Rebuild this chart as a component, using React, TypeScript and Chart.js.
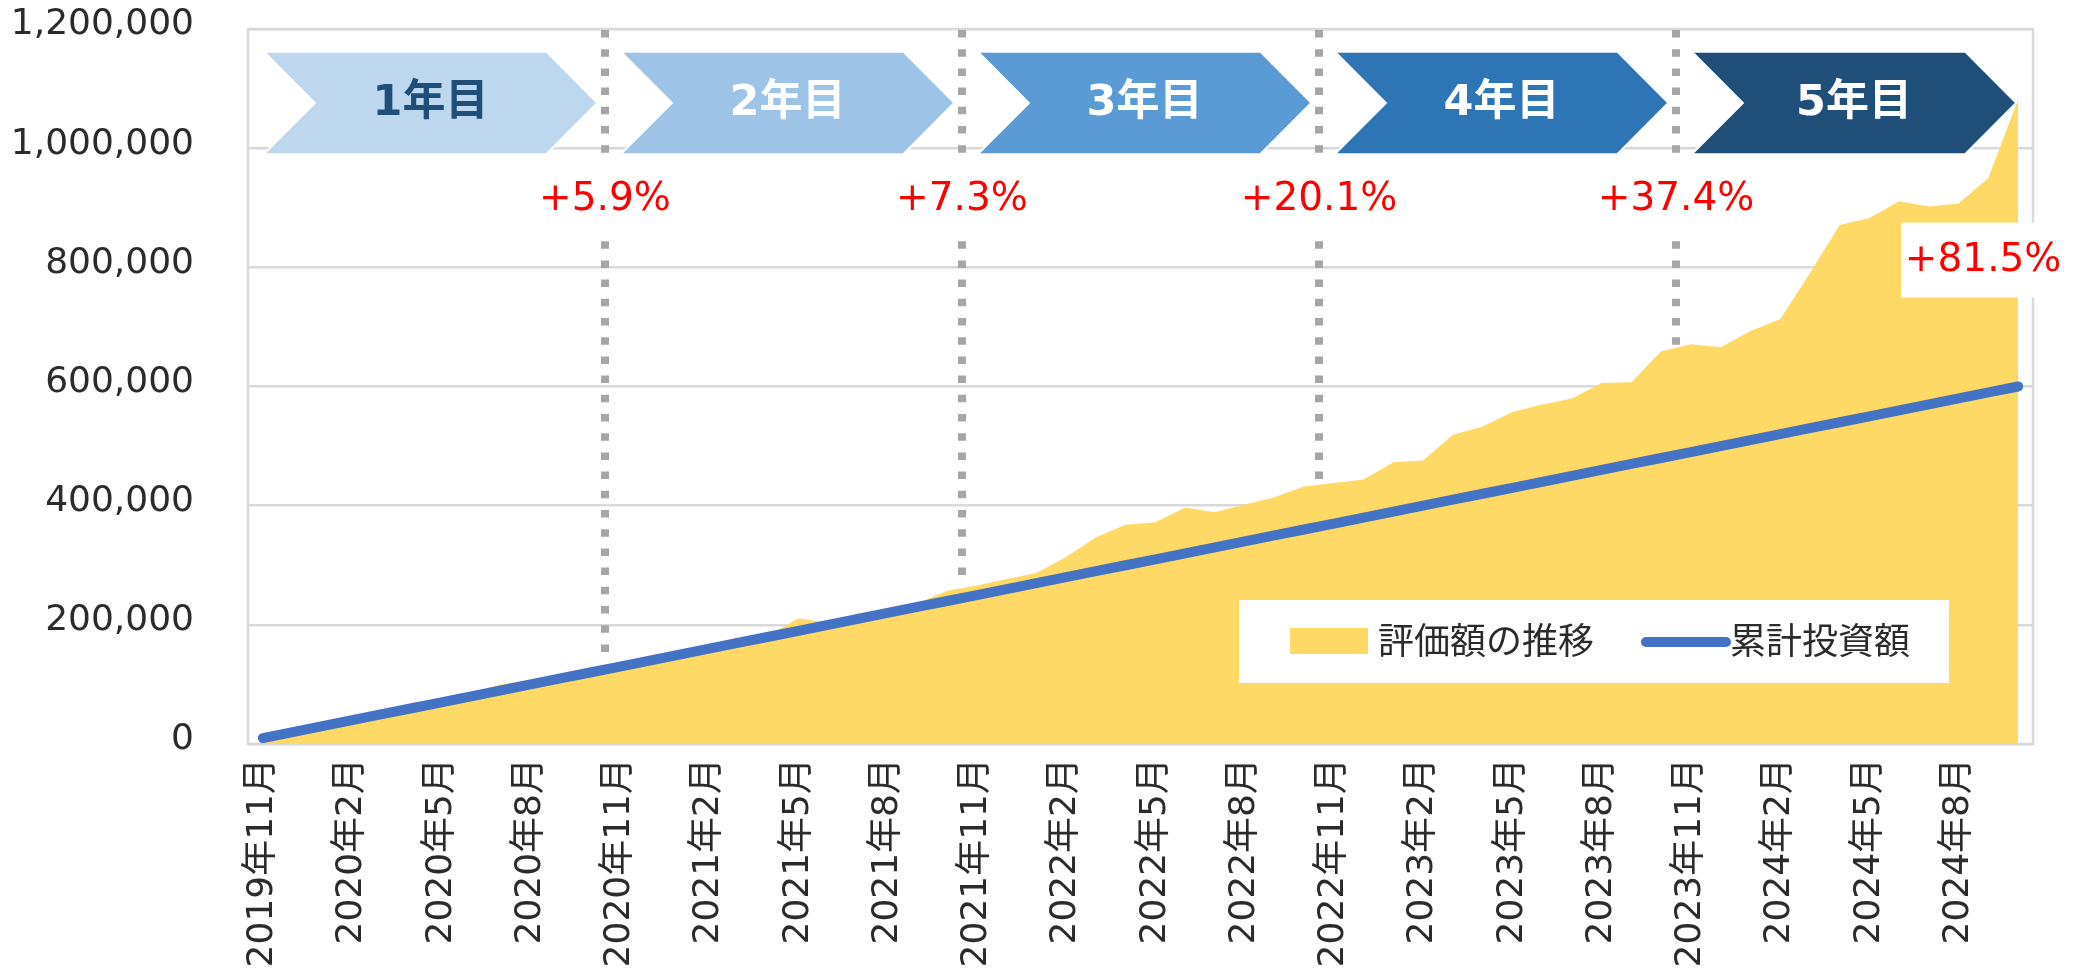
import React, { useEffect, useRef } from 'react';
import { Chart, registerables } from 'chart.js';

Chart.register(...registerables);

const months: string[] = [
  '2019年11月', '2019年12月',
  '2020年1月', '2020年2月', '2020年3月', '2020年4月', '2020年5月', '2020年6月',
  '2020年7月', '2020年8月', '2020年9月', '2020年10月', '2020年11月', '2020年12月',
  '2021年1月', '2021年2月', '2021年3月', '2021年4月', '2021年5月', '2021年6月',
  '2021年7月', '2021年8月', '2021年9月', '2021年10月', '2021年11月', '2021年12月',
  '2022年1月', '2022年2月', '2022年3月', '2022年4月', '2022年5月', '2022年6月',
  '2022年7月', '2022年8月', '2022年9月', '2022年10月', '2022年11月', '2022年12月',
  '2023年1月', '2023年2月', '2023年3月', '2023年4月', '2023年5月', '2023年6月',
  '2023年7月', '2023年8月', '2023年9月', '2023年10月', '2023年11月', '2023年12月',
  '2024年1月', '2024年2月', '2024年3月', '2024年4月', '2024年5月', '2024年6月',
  '2024年7月', '2024年8月', '2024年9月', '2024年10月',
];

// 評価額の推移
const valuation: number[] = [
  10000, 20000, 29000, 39000, 49000, 58000, 68000, 85000, 100000, 108000, 115000, 127000,
  133000, 141000, 150000, 160000, 170000, 182000, 211000, 203000, 219000, 227000, 236000, 257000,
  266000, 277000, 287000, 314000, 347000, 368000, 372000, 397000, 389000, 402000, 414000, 432000,
  438000, 444000, 473000, 476000, 519000, 533000, 557000, 570000, 580000, 606000, 607000, 659000,
  671000, 666000, 693000, 713000, 790000, 871000, 883000, 911000, 902000, 907000, 950000, 1082000,
];

// 累計投資額
const invested: number[] = [
  10000, 20000, 30000, 40000, 50000, 60000, 70000, 80000, 90000, 100000, 110000, 120000,
  130000, 140000, 150000, 160000, 170000, 180000, 190000, 200000, 210000, 220000, 230000, 240000,
  250000, 260000, 270000, 280000, 290000, 300000, 310000, 320000, 330000, 340000, 350000, 360000,
  370000, 380000, 390000, 400000, 410000, 420000, 430000, 440000, 450000, 460000, 470000, 480000,
  490000, 500000, 510000, 520000, 530000, 540000, 550000, 560000, 570000, 580000, 590000, 600000,
];

const yTicks: number[] = [0, 200000, 400000, 600000, 800000, 1000000, 1200000];
const yearNames: string[] = ['1年目', '2年目', '3年目', '4年目', '5年目'];
const yearEndIndex: number[] = [11, 23, 35, 47, 59];
const yearEndPct: string[] = ['+5.9%', '+7.3%', '+20.1%', '+37.4%', '+81.5%'];
const legendNames: string[] = ['評価額の推移', '累計投資額'];

const chevronFill = ['#BDD7EE', '#9DC3E6', '#5B9BD5', '#2E75B6', '#1F4E79'];
const chevronText = ['#1F4E79', '#FFFFFF', '#FFFFFF', '#FFFFFF', '#FFFFFF'];
const AREA = '#FFD966';
const LINE = '#4472C4';
const TEXT = '#2B2B2B';
const LATIN = '"DejaVu Sans", "Noto Sans CJK JP", sans-serif';
const CJK = '"Noto Sans CJK JP", "DejaVu Sans", sans-serif';

const overlay = {
  id: 'overlay',
  beforeDatasetsDraw(chart: any) {
    const { ctx, chartArea: a } = chart;
    ctx.save();
    ctx.strokeStyle = '#D9D9D9';
    ctx.lineWidth = 2.5;
    ctx.strokeRect(a.left, a.top, a.right - a.left, a.bottom - a.top);
    ctx.restore();
  },
  afterDatasetsDraw(chart: any) {
    const { ctx, chartArea: a, scales } = chart;
    const xs = scales.x;
    const ys = scales.y;
    const step = xs.getPixelForValue(1) - xs.getPixelForValue(0);

    // dashed year separators
    ctx.save();
    ctx.strokeStyle = '#A6A6A6';
    ctx.lineWidth = 8;
    ctx.setLineDash([7.5, 11.7]);
    for (let k = 0; k < 4; k++) {
      const idx = yearEndIndex[k];
      const px = (xs.getPixelForValue(idx) + xs.getPixelForValue(idx + 1)) / 2;
      const endY = ys.getPixelForValue(valuation[idx]) - 5;
      ctx.beginPath();
      ctx.moveTo(px, a.top + 1);
      ctx.lineTo(px, endY);
      ctx.stroke();
    }
    ctx.restore();

    // chevrons
    const top = ys.getPixelForValue(1162000);
    const bottom = ys.getPixelForValue(990000);
    const mid = (top + bottom) / 2;
    const depth = 51;
    for (let k = 0; k < 5; k++) {
      const left = xs.getPixelForValue(12 * k) + 1;
      const tip = k === 4 ? xs.getPixelForValue(59) - 2 : xs.getPixelForValue(12 * k + 11) + 0.24 * step;
      ctx.save();
      ctx.beginPath();
      ctx.moveTo(left, top);
      ctx.lineTo(tip - depth, top);
      ctx.lineTo(tip, mid);
      ctx.lineTo(tip - depth, bottom);
      ctx.lineTo(left, bottom);
      ctx.lineTo(left + depth, mid);
      ctx.closePath();
      ctx.fillStyle = chevronFill[k];
      ctx.fill();
      ctx.strokeStyle = '#FFFFFF';
      ctx.lineWidth = 2;
      ctx.stroke();
      ctx.fillStyle = chevronText[k];
      ctx.font = `bold 43px ${LATIN}`;
      ctx.textAlign = 'center';
      ctx.textBaseline = 'middle';
      ctx.fillText(yearNames[k], (left + tip) / 2, mid + 1);
      ctx.restore();
    }

    // percentage labels
    ctx.save();
    ctx.font = `39px ${LATIN}`;
    ctx.textAlign = 'center';
    ctx.textBaseline = 'middle';
    const labelY = ys.getPixelForValue(915000);
    for (let k = 0; k < 4; k++) {
      const idx = yearEndIndex[k];
      const px = (xs.getPixelForValue(idx) + xs.getPixelForValue(idx + 1)) / 2;
      const w = ctx.measureText(yearEndPct[k]).width + 14;
      ctx.fillStyle = '#FFFFFF';
      ctx.fillRect(px - w / 2, labelY - 38, w, 77);
      ctx.fillStyle = '#FF0000';
      ctx.fillText(yearEndPct[k], px, labelY + 1);
    }
    {
      const px = xs.getPixelForValue(59) - 35;
      const py = ys.getPixelForValue(813000);
      ctx.fillStyle = '#FFFFFF';
      ctx.fillRect(px - 82, py - 37, 164, 75);
      ctx.fillStyle = '#FF0000';
      ctx.fillText(yearEndPct[4], px, py + 1);
    }
    ctx.restore();

    // legend
    ctx.save();
    const lx = a.left + 991;
    const ly = a.top + 571;
    ctx.fillStyle = '#FFFFFF';
    ctx.fillRect(lx, ly, 710, 83);
    const cy = ly + 41;
    ctx.fillStyle = AREA;
    ctx.fillRect(lx + 51, cy - 13, 78, 26);
    ctx.font = `36px ${CJK}`;
    ctx.fillStyle = TEXT;
    ctx.textAlign = 'left';
    ctx.textBaseline = 'middle';
    ctx.fillText(legendNames[0], lx + 139, cy - 1);
    ctx.strokeStyle = LINE;
    ctx.lineWidth = 10;
    ctx.lineCap = 'round';
    ctx.beginPath();
    ctx.moveTo(lx + 407, cy + 1);
    ctx.lineTo(lx + 487, cy + 1);
    ctx.stroke();
    ctx.fillText(legendNames[1], lx + 491, cy - 1);
    ctx.restore();
  },
};

export default function App() {
  const ref = useRef<HTMLCanvasElement | null>(null);

  useEffect(() => {
    document.body.style.margin = '0';
    document.body.style.overflow = 'hidden';
    const canvas = ref.current;
    if (!canvas) return;
    const chart = new Chart(canvas, {
      type: 'line',
      data: {
        labels: months,
        datasets: [
          {
            label: legendNames[1],
            data: invested,
            borderColor: LINE,
            borderWidth: 10,
            borderCapStyle: 'round',
            borderJoinStyle: 'round',
            pointRadius: 0,
            fill: false,
            tension: 0,
            order: 0,
          },
          {
            label: legendNames[0],
            data: valuation,
            borderWidth: 0,
            borderColor: AREA,
            backgroundColor: AREA,
            pointRadius: 0,
            fill: 'origin',
            tension: 0,
            order: 1,
          },
        ],
      },
      options: {
        responsive: false,
        animation: false,
        devicePixelRatio: 1,
        layout: { padding: { top: 29, right: 49, left: 0, bottom: 0 } },
        plugins: {
          legend: { display: false },
          tooltip: { enabled: false },
          title: { display: false },
        },
        scales: {
          x: {
            type: 'category',
            offset: true,
            grid: { display: false, drawTicks: false },
            border: { display: false },
            ticks: {
              autoSkip: false,
              minRotation: 90,
              maxRotation: 90,
              padding: 14,
              color: TEXT,
              font: { family: LATIN, size: 36 },
              callback: (_v: any, i: number) => (i % 3 === 0 ? months[i] : null),
            },
            afterFit: (s: any) => {
              s.height = 236;
              s.paddingLeft = 0;
              s.paddingRight = 0;
            },
          },
          y: {
            min: 0,
            max: 1200000,
            afterBuildTicks: (s: any) => {
              s.ticks = yTicks.map((v) => ({ value: v }));
            },
            grid: { color: '#D9D9D9', lineWidth: 2.5, drawTicks: false },
            border: { display: false },
            ticks: {
              padding: 54,
              labelOffset: -4,
              color: TEXT,
              font: { family: LATIN, size: 36 },
              callback: (v: any) => Number(v).toLocaleString('en-US'),
            },
            afterFit: (s: any) => {
              s.width = 248;
              s.paddingTop = 0;
              s.paddingBottom = 0;
            },
          },
        },
      },
      plugins: [overlay],
    } as any);
    return () => chart.destroy();
  }, []);

  return (
    <div style={{ width: 2082, height: 980, background: '#FFFFFF' }}>
      <canvas ref={ref} width={2082} height={980} style={{ display: 'block' }} />
    </div>
  );
}
